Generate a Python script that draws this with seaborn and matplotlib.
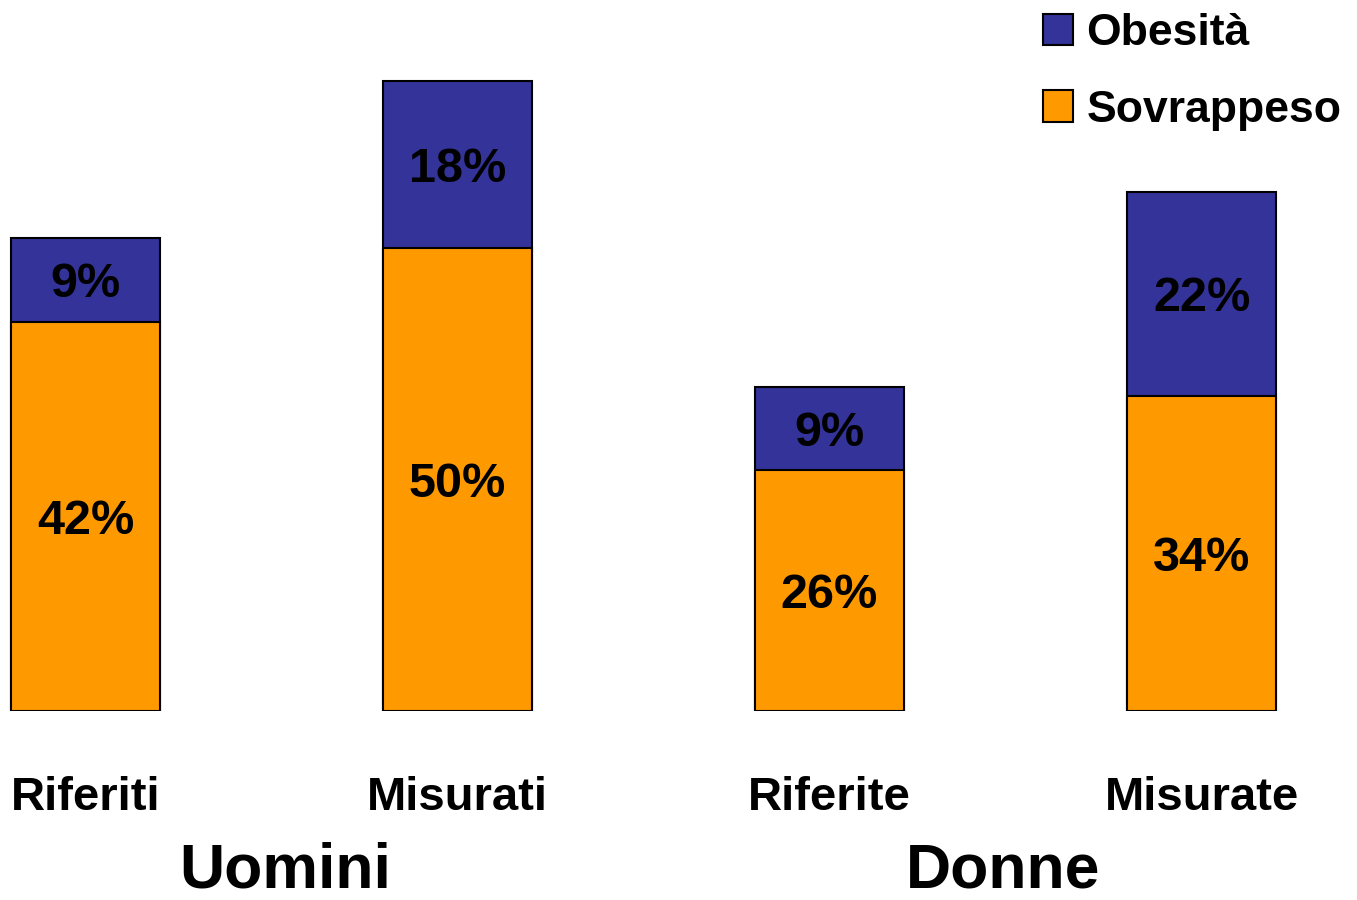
import matplotlib
matplotlib.use("Agg")
import matplotlib.pyplot as plt
import seaborn as sns
from matplotlib.patches import Patch

# ---- data ----
categories = ["Riferiti", "Misurati", "Riferite", "Misurate"]
sovrappeso = [42, 50, 26, 34]
obesita = [9, 18, 9, 22]
groups = ["Uomini", "Donne"]
series_names = ["Obesità", "Sovrappeso"]

blue = "#333399"
orange = "#FF9900"

sns.set_style("white")
plt.rcParams["font.family"] = ["Liberation Sans", "DejaVu Sans"]
plt.rcParams["text.color"] = "black"

fig = plt.figure(figsize=(13.57, 9), dpi=100)
ax = fig.add_axes([0, 0.21, 1, 0.79])

totals = [s + o for s, o in zip(sovrappeso, obesita)]
sns.barplot(x=categories, y=totals, color=blue, width=0.4, saturation=1,
            edgecolor="black", linewidth=1.5, errorbar=None, ax=ax)
sns.barplot(x=categories, y=sovrappeso, color=orange, width=0.4, saturation=1,
            edgecolor="black", linewidth=1.5, errorbar=None, ax=ax)

ax.set_xlim(-0.2298, 3.418)
ax.set_ylim(0, 76.7)
ax.axis("off")

pct_size = 35
cap = 0.716 * pct_size * 100 / 72 / 9.24  # digit height in data units
for i, (s, o) in enumerate(zip(sovrappeso, obesita)):
    ax.text(i, s / 2 - cap / 2, f"{s}%", ha="center", va="baseline",
            fontsize=pct_size, fontweight="bold", color="black")
    ax.text(i, s + o / 2 - cap / 2, f"{o}%", ha="center", va="baseline",
            fontsize=pct_size, fontweight="bold", color="black")
    ax.text(i, -10.7, categories[i], ha="center", va="baseline",
            fontsize=34, fontweight="bold", color="black", clip_on=False)

ax.text(0.536, -19.0, groups[0], ha="center", va="baseline",
        fontsize=45, fontweight="bold", color="black", clip_on=False)
ax.text(2.466, -19.0, groups[1], ha="center", va="baseline",
        fontsize=45, fontweight="bold", color="black", clip_on=False)

handles = [Patch(facecolor=blue, edgecolor="black", linewidth=1.5),
           Patch(facecolor=orange, edgecolor="black", linewidth=1.5)]
leg = fig.legend(handles, series_names, loc="upper left",
                 bbox_to_anchor=(1043 / 1357, 1 - 13 / 900), frameon=False,
                 prop={"size": 32, "weight": "bold"},
                 handlelength=0.68, handleheight=0.72, handletextpad=0.3,
                 labelspacing=0.8, borderpad=0, borderaxespad=0)
for t in leg.get_texts():
    t.set_color("black")

fig.savefig("out.png", dpi=100)
